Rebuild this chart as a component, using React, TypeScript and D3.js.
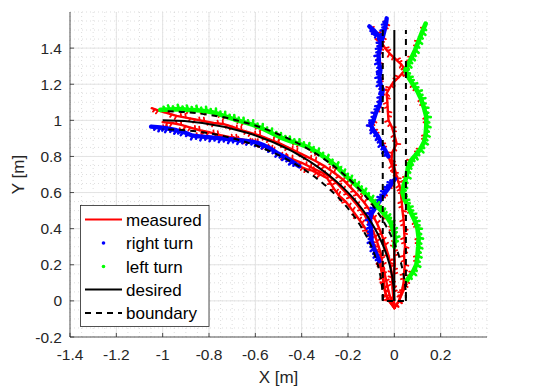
import React from "react";
import * as d3 from "d3";

type P = [number, number];

const xDomain: P = [-1.4, 0.4];
const yDomain: P = [-0.2, 1.6];
const xTicks = [-1.4, -1.2, -1, -0.8, -0.6, -0.4, -0.2, 0, 0.2];
const yTicks = [-0.2, 0, 0.2, 0.4, 0.6, 0.8, 1, 1.2, 1.4];
const minorStep = 0.05;

// desired path: straight segment and quarter arc
const desiredStraight: P[] = [[0, 0], [0, 1.5]];
const arcCenter: P = [-1, 0];
const desiredRadius = 1;
const boundaryHalfWidth = 0.05;
const straightTop = 1.5;

// left turn (green markers) along arc
const greenArc: P[] = [
  [-1.01, 1.058], [-0.97, 1.06], [-0.93, 1.062], [-0.89, 1.058], [-0.85, 1.056], [-0.81, 1.05],
  [-0.77, 1.04], [-0.73, 1.022], [-0.69, 1.005], [-0.65, 0.99], [-0.61, 0.975], [-0.57, 0.955],
  [-0.53, 0.93], [-0.49, 0.905], [-0.45, 0.885], [-0.41, 0.87], [-0.37, 0.85], [-0.33, 0.82],
  [-0.29, 0.785], [-0.25, 0.745], [-0.22, 0.705], [-0.19, 0.67], [-0.16, 0.635], [-0.13, 0.6],
  [-0.1, 0.56], [-0.075, 0.525], [-0.05, 0.49], [-0.03, 0.46], [-0.015, 0.43], [-0.005, 0.39],
  [0.003, 0.35], [0.0, 0.3],
];
const leftArcTail: P[] = [
  [0.0, 0.25], [0.002, 0.2], [-0.003, 0.15], [-0.005, 0.1], [-0.004, 0.05], [0.0, -0.04],
];

// right turn (blue markers) along arc
const blueArc: P[] = [
  [-1.05, 0.965], [-1.01, 0.96], [-0.98, 0.955], [-0.94, 0.945], [-0.91, 0.935], [-0.87, 0.915],
  [-0.83, 0.91], [-0.79, 0.905], [-0.75, 0.9], [-0.71, 0.895], [-0.67, 0.89], [-0.63, 0.885],
  [-0.59, 0.875], [-0.56, 0.86], [-0.53, 0.84], [-0.5, 0.815], [-0.47, 0.795], [-0.44, 0.77],
  [-0.41, 0.745],
];
const rightArcTail: P[] = [
  [-0.38, 0.73], [-0.35, 0.72], [-0.32, 0.7], [-0.29, 0.68], [-0.26, 0.62], [-0.24, 0.585],
  [-0.21, 0.55], [-0.18, 0.5], [-0.16, 0.465], [-0.14, 0.43], [-0.12, 0.39], [-0.1, 0.34],
  [-0.085, 0.3], [-0.07, 0.25], [-0.06, 0.2], [-0.05, 0.15], [-0.045, 0.1], [-0.04, 0.05],
  [-0.03, 0.01], [0.0, -0.04],
];

// right turn on the straight part
const rightStraightHead: P[] = [
  [0.0, -0.04], [-0.02, 0.0], [-0.035, 0.03], [-0.045, 0.08], [-0.05, 0.13], [-0.058, 0.18],
];
const blueLow: P[] = [
  [-0.065, 0.22], [-0.076, 0.255], [-0.088, 0.29], [-0.098, 0.33], [-0.1, 0.37], [-0.102, 0.41],
  [-0.105, 0.45], [-0.1, 0.48], [-0.085, 0.51], [-0.07, 0.54], [-0.055, 0.57], [-0.04, 0.6],
  [-0.025, 0.625], [-0.012, 0.65], [0.003, 0.675],
];
const rightStraightMid: P[] = [[0.0, 0.71], [-0.01, 0.75]];
const blueHigh: P[] = [
  [-0.026, 0.8], [-0.04, 0.835], [-0.055, 0.87], [-0.07, 0.91], [-0.09, 0.945], [-0.1, 0.97],
  [-0.09, 1.0], [-0.08, 1.04], [-0.065, 1.08], [-0.055, 1.13], [-0.05, 1.17], [-0.06, 1.2],
  [-0.064, 1.24], [-0.06, 1.28], [-0.066, 1.32], [-0.068, 1.36], [-0.062, 1.4], [-0.058, 1.43],
  [-0.05, 1.46], [-0.042, 1.5], [-0.036, 1.535], [-0.033, 1.565],
];
const blueBranch: P[] = [[-0.055, 1.45], [-0.075, 1.48], [-0.09, 1.5], [-0.108, 1.52]];

// left turn on the straight part
const leftStraightHead: P[] = [[0.0, -0.04], [0.02, 0.0], [0.04, 0.06]];
const greenStraight: P[] = [
  [0.055, 0.115], [0.08, 0.16], [0.095, 0.2], [0.1, 0.25], [0.103, 0.3], [0.105, 0.35],
  [0.1, 0.4], [0.09, 0.44], [0.075, 0.48], [0.06, 0.52], [0.045, 0.56], [0.035, 0.6],
  [0.04, 0.64], [0.053, 0.69], [0.06, 0.75], [0.07, 0.775], [0.09, 0.805], [0.112, 0.84],
  [0.128, 0.88], [0.135, 0.92], [0.138, 0.97], [0.138, 1.02], [0.128, 1.07], [0.115, 1.12],
  [0.1, 1.16], [0.08, 1.2], [0.06, 1.24], [0.047, 1.28], [0.06, 1.31], [0.075, 1.35],
  [0.09, 1.39], [0.105, 1.44], [0.12, 1.49], [0.135, 1.535],
];

// measured-only tracks
const measuredStraight: P[] = [
  [0.0, -0.04], [0.02, 0.0], [0.032, 0.05], [0.04, 0.1], [0.042, 0.15], [0.045, 0.2],
  [0.042, 0.25], [0.046, 0.3], [0.044, 0.35], [0.042, 0.4], [0.04, 0.45], [0.035, 0.5],
  [0.032, 0.55], [0.028, 0.6], [0.022, 0.64], [0.012, 0.68], [0.003, 0.725], [-0.012, 0.78],
  [-0.01, 0.82], [0.01, 0.87], [0.0, 0.92], [-0.01, 0.96], [-0.025, 1.0], [-0.028, 1.05],
  [-0.03, 1.1], [-0.033, 1.15], [-0.02, 1.18], [-0.005, 1.21], [0.02, 1.24], [0.047, 1.28],
  [0.03, 1.31], [0.01, 1.334], [-0.02, 1.37], [-0.04, 1.4], [-0.055, 1.43], [-0.08, 1.45],
];
const measuredArcUpper: P[] = [
  [-1.047, 1.067], [-1.02, 1.055], [-0.98, 1.04], [-0.94, 1.025], [-0.9, 1.015], [-0.86, 1.005],
  [-0.82, 0.995], [-0.78, 0.985], [-0.74, 0.98], [-0.7, 0.965], [-0.66, 0.945], [-0.62, 0.93],
  [-0.58, 0.915], [-0.54, 0.895], [-0.5, 0.875], [-0.46, 0.85], [-0.42, 0.825], [-0.38, 0.8],
  [-0.34, 0.775], [-0.3, 0.745], [-0.26, 0.71], [-0.22, 0.67], [-0.19, 0.63], [-0.16, 0.59],
  [-0.13, 0.545], [-0.1, 0.49], [-0.075, 0.43], [-0.055, 0.37], [-0.04, 0.31], [-0.025, 0.25],
  [-0.015, 0.19], [-0.01, 0.13], [-0.008, 0.07], [0.0, -0.04],
];
const measuredArcLower: P[] = [
  [-1.0, 0.99], [-0.96, 0.985], [-0.92, 0.975], [-0.88, 0.96], [-0.84, 0.945], [-0.8, 0.935],
  [-0.76, 0.92], [-0.72, 0.91], [-0.68, 0.9], [-0.64, 0.89], [-0.6, 0.875], [-0.56, 0.855],
  [-0.52, 0.83], [-0.48, 0.8], [-0.44, 0.785], [-0.4, 0.765], [-0.36, 0.74], [-0.32, 0.715],
  [-0.28, 0.69], [-0.25, 0.655], [-0.22, 0.615], [-0.19, 0.575], [-0.16, 0.53], [-0.13, 0.48],
  [-0.11, 0.43], [-0.09, 0.38], [-0.075, 0.33], [-0.06, 0.27], [-0.05, 0.2], [-0.04, 0.14],
  [-0.03, 0.08], [-0.02, 0.03], [0.0, -0.04],
];

const legendLabels = ["measured", "right turn", "left turn", "desired", "boundary"];

const FONT = "'Liberation Sans', Arial, Helvetica, sans-serif";

export default function App() {
  const x = d3.scaleLinear().domain(xDomain).range([70, 487]);
  const y = d3.scaleLinear().domain(yDomain).range([337, 12]);
  const line = d3.line<P>().x((d) => x(d[0])).y((d) => y(d[1]));

  const redRuns: P[][] = [
    measuredArcLower,
    measuredArcUpper,
    measuredStraight,
    [...greenArc, ...leftArcTail],
    [...blueArc, ...rightArcTail],
    [...rightStraightHead, ...blueLow, ...rightStraightMid, ...blueHigh],
    [...leftStraightHead, ...greenStraight],
    blueBranch,
  ];
  const blueSegs: { pts: P[]; side: number }[] = [
    { pts: blueArc, side: -1 },
    { pts: blueLow, side: 1 },
    { pts: blueHigh, side: 1 },
    { pts: blueBranch, side: 1 },
  ];
  const greenSegs: { pts: P[]; side: number }[] = [
    { pts: greenArc, side: 1 },
    { pts: greenStraight, side: -1 },
  ];

  const spikePath = (pts: P[], side: number, len: number, alternate: boolean, midScale: number) => {
    const px = pts.map((p) => [x(p[0]), y(p[1])]);
    let d = "";
    for (let i = 0; i < px.length - 1; i++) {
      const a = px[i], b = px[i + 1];
      const dx = b[0] - a[0], dy = b[1] - a[1];
      const L = Math.hypot(dx, dy) || 1;
      const ux = dx / L, uy = dy / L;
      const nx = uy, ny = -ux;
      const s = alternate ? (i % 2 === 0 ? 1 : -1) : side;
      if (i > 0) {
        d += `M${a[0]},${a[1]}L${a[0] + nx * len * s - ux * len * 0.35},${a[1] + ny * len * s - uy * len * 0.35}`;
      }
      if (midScale > 0) {
        const m = [(a[0] + b[0]) / 2, (a[1] + b[1]) / 2];
        const s2 = alternate ? -s : s;
        d += `M${m[0]},${m[1]}L${m[0] + nx * len * midScale * s2 - ux * len * 0.3},${m[1] + ny * len * midScale * s2 - uy * len * 0.3}`;
      }
    }
    return d;
  };

  const arcPath = (r: number, from: P, to: P) => {
    const rx = x(arcCenter[0] + r) - x(arcCenter[0]);
    const ry = y(arcCenter[1]) - y(arcCenter[1] + r);
    return `M${x(from[0])},${y(from[1])}A${rx},${ry} 0 0 0 ${x(to[0])},${y(to[1])}`;
  };

  const desiredArcD = arcPath(desiredRadius, [arcCenter[0] + desiredRadius, 0], [arcCenter[0], desiredRadius]);
  const rIn = desiredRadius - boundaryHalfWidth;
  const rOut = desiredRadius + boundaryHalfWidth;
  const innerArcD = arcPath(rIn, [arcCenter[0] + rIn, 0], [arcCenter[0], rIn]);
  const outerArcD = arcPath(rOut, [arcCenter[0] + rOut, 0], [arcCenter[0], rOut]);
  const bStraight: P[] = [[-boundaryHalfWidth, straightTop], [-boundaryHalfWidth, 0], [boundaryHalfWidth, 0], [boundaryHalfWidth, straightTop]];

  const minorX = d3.range(xDomain[0], xDomain[1] + 1e-9, minorStep);
  const minorY = d3.range(yDomain[0], yDomain[1] + 1e-9, minorStep);
  const fmt = (v: number) => String(+v.toFixed(2));

  const [x0, x1] = x.range();
  const [y0, y1] = y.range();

  const legendRowY = [219.5, 243, 266.5, 289.5, 313];

  return (
    <svg width={538} height={386} style={{ position: "absolute", left: 0, top: 0, background: "#fff" }}>
      <rect x={0} y={0} width={538} height={386} fill="#fff" />
      {/* minor grid */}
      <g stroke="#c8c8c8" strokeWidth={0.6} strokeDasharray="1,3">
        {minorX.map((v, i) => (
          <line key={"mx" + i} x1={x(v)} x2={x(v)} y1={y1} y2={y0} />
        ))}
        {minorY.map((v, i) => (
          <line key={"my" + i} y1={y(v)} y2={y(v)} x1={x0} x2={x1} />
        ))}
      </g>
      {/* major grid */}
      <g stroke="#e3e3e3" strokeWidth={1}>
        {xTicks.filter((v) => v > xDomain[0] + 1e-9).map((v) => (
          <line key={"gx" + v} x1={x(v)} x2={x(v)} y1={y1} y2={y0} />
        ))}
        {yTicks.filter((v) => v > yDomain[0] + 1e-9).map((v) => (
          <line key={"gy" + v} y1={y(v)} y2={y(v)} x1={x0} x2={x1} />
        ))}
      </g>

      {/* measured red */}
      <g fill="none" stroke="#ff0000" strokeLinejoin="round" strokeLinecap="round">
        {redRuns.map((r, i) => (
          <g key={"r" + i}>
            <path d={line(r) || ""} strokeWidth={2.4} />
            <path d={spikePath(r, 1, 3.5, true, 0.8)} strokeWidth={1.8} />
          </g>
        ))}
      </g>
      {/* blue markers */}
      <g fill="none" stroke="#0000ff" strokeLinejoin="round" strokeLinecap="round">
        {blueSegs.map((s, i) => (
          <g key={"b" + i}>
            <path d={line(s.pts) || ""} strokeWidth={4.4} />
            <path d={spikePath(s.pts, s.side, 4, false, 0.7)} strokeWidth={2.4} />
          </g>
        ))}
      </g>
      {/* green markers */}
      <g fill="none" stroke="#00ff00" strokeLinejoin="round" strokeLinecap="round">
        {greenSegs.map((s, i) => (
          <g key={"g" + i}>
            <path d={line(s.pts) || ""} strokeWidth={4.6} />
            <path d={spikePath(s.pts, s.side, 4.2, false, 0.7)} strokeWidth={2.6} />
          </g>
        ))}
      </g>

      {/* desired */}
      <g fill="none" stroke="#000" strokeWidth={2}>
        <path d={desiredArcD} />
        <path d={line(desiredStraight) || ""} />
      </g>
      {/* boundary */}
      <g fill="none" stroke="#000" strokeWidth={2} strokeDasharray="6,5">
        <path d={innerArcD} />
        <path d={outerArcD} />
        <path d={line(bStraight) || ""} />
      </g>

      {/* axes */}
      <g stroke="#262626" strokeWidth={0.8} fill="none">
        <line x1={x0} x2={x0} y1={y0} y2={y1} />
        <line x1={x0} x2={x1} y1={y0} y2={y0} />
        {xTicks.map((v) => (
          <line key={"tx" + v} x1={x(v)} x2={x(v)} y1={y0} y2={y0 - 4} />
        ))}
        {yTicks.map((v) => (
          <line key={"ty" + v} x1={x0} x2={x0 + 4} y1={y(v)} y2={y(v)} />
        ))}
      </g>
      <g fontFamily={FONT} fontSize={15.5} fill="#262626">
        {xTicks.map((v) => (
          <text key={"lx" + v} x={x(v)} y={359.5} textAnchor="middle">
            {fmt(v)}
          </text>
        ))}
        {yTicks.map((v) => (
          <text key={"ly" + v} x={62} y={y(v) + 5.5} textAnchor="end">
            {fmt(v)}
          </text>
        ))}
      </g>
      <text x={(x0 + x1) / 2} y={383} textAnchor="middle" fontFamily={FONT} fontSize={17} fill="#262626">
        X [m]
      </text>
      <text
        transform={`translate(24,${(y0 + y1) / 2}) rotate(-90)`}
        textAnchor="middle"
        fontFamily={FONT}
        fontSize={17}
        fill="#262626"
      >
        Y [m]
      </text>

      {/* legend */}
      <g>
        <rect x={80.5} y={205.5} width={128.5} height={121} fill="#fff" stroke="#262626" strokeWidth={0.8} />
        <line x1={85} x2={122} y1={legendRowY[0]} y2={legendRowY[0]} stroke="#ff0000" strokeWidth={2} />
        <circle cx={103.5} cy={legendRowY[1]} r={1.8} fill="#0000ff" />
        <circle cx={103.5} cy={legendRowY[2]} r={1.8} fill="#00ff00" />
        <line x1={85} x2={122} y1={legendRowY[3]} y2={legendRowY[3]} stroke="#000" strokeWidth={2} />
        <line x1={85} x2={122} y1={legendRowY[4]} y2={legendRowY[4]} stroke="#000" strokeWidth={2} strokeDasharray="6,5" />
        {legendLabels.map((t, i) => (
          <text key={t} x={126} y={legendRowY[i] + 6} fontFamily={FONT} fontSize={17} fill="#000">
            {t}
          </text>
        ))}
      </g>
    </svg>
  );
}
